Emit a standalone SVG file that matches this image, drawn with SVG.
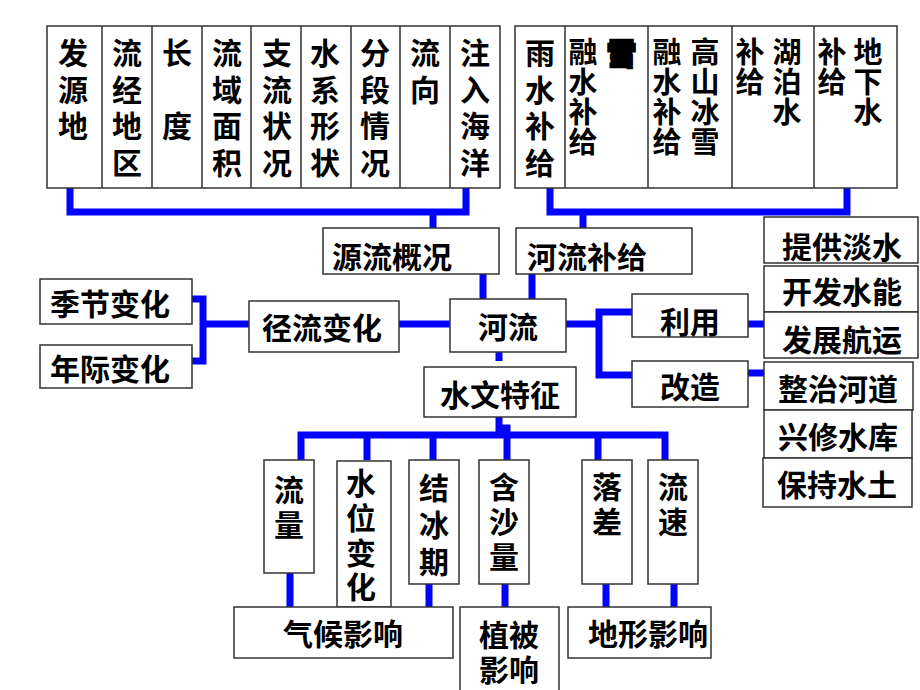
<svg xmlns="http://www.w3.org/2000/svg" width="920" height="690" viewBox="0 0 920 690">
<style>
.box{fill:#fff;stroke:#333;stroke-width:1.5}
.t{font-family:"Noto Sans CJK SC","Noto Sans CJK TC",sans-serif;font-weight:bold;font-size:30px;fill:#000;text-anchor:middle;dominant-baseline:central}
.v{font-family:"Noto Sans CJK SC","Noto Sans CJK TC",sans-serif;font-weight:bold;font-size:30px;fill:#000;writing-mode:vertical-rl;text-anchor:start;letter-spacing:6.5px}
.s{font-size:29px;letter-spacing:1px}
.c{stroke:#0000ff;stroke-width:7;fill:none}
</style>
<rect width="920" height="690" fill="#fff"/>
<g id="connectors">
<path class="c" d="M70,188 V212 H466 V188 M433,212 V228"/>
<path class="c" d="M550,188 V212 H847 V188 M583,212 V228"/>
<path class="c" d="M483,274 V299 M532,274 V299"/>
<path class="c" d="M192,299 H203 V361 H192 M203,324 H249"/>
<path class="c" d="M399,324 H450"/>
<path class="c" d="M566,324 H599 M632,312 H599 V375 H632"/>
<path class="c" d="M748,324 H764 M748,373 H764"/>
<path class="c" d="M499,352 V361"/>
<path class="c" d="M499,417 V428 H507 V435 M301,460 V435 H665 V460 M367,435 V460 M433,435 V460 M507,435 V460 M598,435 V460"/>
<path class="c" d="M290,573 V607 M429,584 V607 M505,584 V607 M606,584 V607 M674,584 V607"/>
</g>
<g id="top-left">
<rect class="box" x="47" y="26" width="453" height="162"/>
<path d="M102,26V188M152,26V188M202,26V188M251,26V188M301,26V188M351,26V188M400,26V188M450,26V188" stroke="#333" stroke-width="1.5"/>
<g id="n-fayuandi"><text class="v" x="73" y="38">发源地</text></g>
<g id="n-liujingdiqu"><text class="v" x="127" y="38">流经地区</text></g>
<g id="n-changdu"><text class="v" x="177" y="38">长　度</text></g>
<g id="n-liuyumianji"><text class="v" x="227" y="38">流域面积</text></g>
<g id="n-zhiliu"><text class="v" x="277" y="38">支流状况</text></g>
<g id="n-shuixi"><text class="v" x="325" y="38">水系形状</text></g>
<g id="n-fenduan"><text class="v" x="375" y="38">分段情况</text></g>
<g id="n-liuxiang"><text class="v" x="425" y="38">流向</text></g>
<g id="n-zhuru"><text class="v" x="475" y="38">注入海洋</text></g>
</g>
<g id="top-right">
<rect class="box" x="515" y="26" width="382" height="162"/>
<path d="M565,26V188M648,26V188M732,26V188M814,26V188" stroke="#333" stroke-width="1.5"/>
<g id="n-yushui"><text class="v" x="540" y="38">雨水补给</text></g>
<g id="n-jixue"><text class="v s" x="583" y="37.5">融水补给</text><text class="t s" x="622" y="52" style="stroke:#000;stroke-width:3">雪</text></g>
<g id="n-gaoshan"><text class="v s" x="667" y="37.5">融水补给</text><text class="v s" x="705" y="37.5">高山冰雪</text></g>
<g id="n-hupo"><text class="v s" x="750" y="37.5">补给</text><text class="v s" x="787" y="37.5">湖泊水</text></g>
<g id="n-dixia"><text class="v s" x="832" y="37.5">补给</text><text class="v s" x="868" y="37.5">地下水</text></g>
</g>
<g id="n-yuanliu"><rect class="box" x="323" y="228" width="176" height="46"/><text class="t" x="392" y="255">源流概况</text></g>
<g id="n-buji"><rect class="box" x="516" y="228" width="176" height="46"/><text class="t" x="587" y="255">河流补给</text></g>
<g id="n-heliu"><rect class="box" x="450" y="299" width="116" height="53"/><text class="t" x="508" y="325">河流</text></g>
<g id="n-jingliu"><rect class="box" x="249" y="301" width="150" height="51"/><text class="t" x="322" y="326">径流变化</text></g>
<g id="n-jijie"><rect class="box" x="40" y="279" width="152" height="45"/><text class="t" x="110" y="302">季节变化</text></g>
<g id="n-nianji"><rect class="box" x="40" y="345" width="152" height="43"/><text class="t" x="110" y="367">年际变化</text></g>
<g id="n-shuiwen"><rect class="box" x="424" y="367" width="152" height="50"/><text class="t" x="500" y="393">水文特征</text></g>
<g id="n-liyong"><rect class="box" x="632" y="294" width="116" height="43"/><text class="t" x="690" y="320">利用</text></g>
<g id="n-gaizao"><rect class="box" x="632" y="361" width="116" height="46"/><text class="t" x="690" y="385">改造</text></g>
<g id="n-tigong"><rect class="box" x="764" y="217" width="154" height="46"/><text class="t" x="842" y="245">提供淡水</text></g>
<g id="n-kaifa"><rect class="box" x="764" y="266" width="154" height="46"/><text class="t" x="842" y="290">开发水能</text></g>
<g id="n-hangyun"><rect class="box" x="764" y="312" width="154" height="46"/><text class="t" x="842" y="338">发展航运</text></g>
<g id="n-zhengzhi"><rect class="box" x="764" y="362" width="149" height="48"/><text class="t" x="838" y="387">整治河道</text></g>
<g id="n-shuiku"><rect class="box" x="764" y="410" width="148" height="48"/><text class="t" x="838" y="435">兴修水库</text></g>
<g id="n-baochi"><rect class="box" x="763" y="458" width="149" height="49"/><text class="t" x="837" y="483">保持水土</text></g>
<g id="n-liuliang"><rect class="box" x="264" y="460" width="50" height="113"/><text class="v" x="289" y="475" style="letter-spacing:5px">流量</text></g>
<g id="n-shuiwei"><rect class="box" x="337" y="461" width="54" height="146"/><text class="v" x="361" y="468" style="letter-spacing:4.7px">水位变化</text></g>
<g id="n-jiebing"><rect class="box" x="409" y="460" width="50" height="124"/><text class="v" x="434" y="473" style="letter-spacing:7px">结冰期</text></g>
<g id="n-hansha"><rect class="box" x="479" y="460" width="50" height="124"/><text class="v" x="504" y="472" style="letter-spacing:5px">含沙量</text></g>
<g id="n-luocha"><rect class="box" x="582" y="460" width="50" height="124"/><text class="v" x="607" y="472" style="letter-spacing:5px">落差</text></g>
<g id="n-liusu"><rect class="box" x="648" y="460" width="50" height="124"/><text class="v" x="673" y="472" style="letter-spacing:5px">流速</text></g>
<g id="n-qihou"><rect class="box" x="234" y="607" width="219" height="51"/><text class="t" x="343" y="632">气候影响</text></g>
<g id="n-zhibei"><rect class="box" x="460" y="607" width="99" height="90"/><text class="t"><tspan x="509" y="633">植被</tspan><tspan x="509" y="668">影响</tspan></text></g>
<g id="n-dixing"><rect class="box" x="568" y="607" width="143" height="51"/><text class="t" x="648" y="632">地形影响</text></g>
</svg>
